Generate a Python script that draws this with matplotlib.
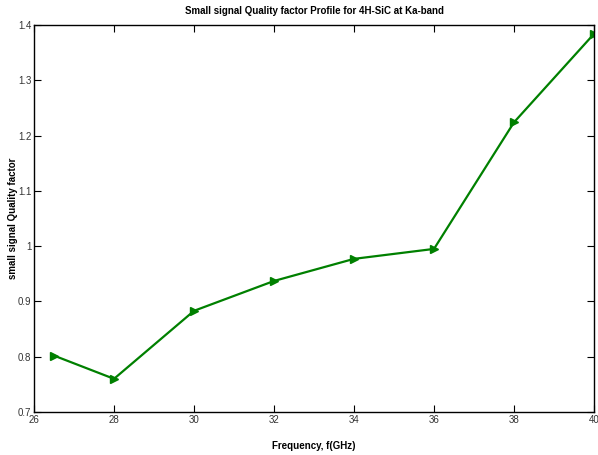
import matplotlib
matplotlib.use("Agg")
import matplotlib.pyplot as plt

freq = [26.5, 28, 30, 32, 34, 36, 38, 40]
qfactor = [0.802, 0.760, 0.883, 0.937, 0.977, 0.995, 1.224, 1.384]
xticks = [26, 28, 30, 32, 34, 36, 38, 40]
yticks = [0.7, 0.8, 0.9, 1.0, 1.1, 1.2, 1.3, 1.4]
yticklabels = ["0.7", "0.8", "0.9", "1", "1.1", "1.2", "1.3", "1.4"]

plt.rcParams['font.family'] = ['Liberation Sans', 'DejaVu Sans']
fig = plt.figure(figsize=(5.98, 4.55), dpi=100)
ax = fig.add_axes([34/598, 1-412/455, (594-34)/598, (412-25)/455])
ax.plot(freq, qfactor, color=(0, 0.5, 0), linewidth=1.6, marker='>', markersize=6,
        markerfacecolor=(0, 0.5, 0), markeredgecolor=(0, 0.5, 0))
ax.set_xlim(26, 40)
ax.set_ylim(0.7, 1.4)
ax.set_xticks(xticks)
ax.set_yticks(yticks)
ax.set_yticklabels(yticklabels)
ax.tick_params(direction='in', length=5, labelsize=7, width=0.8, top=True, right=True, pad=2,
               labelcolor='#333333')
for s in ax.spines.values():
    s.set_linewidth(1.0)
ax.set_title("Small signal Quality factor Profile for 4H-SiC at Ka-band", fontsize=7, fontweight='bold', pad=8)
ax.set_xlabel("Frequency, f(GHz)", fontsize=7, fontweight='bold')
ax.set_ylabel("small signal Quality factor", fontsize=7, fontweight='bold')
ax.xaxis.set_label_coords(0.5, (412-446)/387, transform=ax.transAxes)
ax.yaxis.set_label_coords((13-34)/560, 0.5, transform=ax.transAxes)
ax.xaxis.label.set_va('center')
ax.yaxis.label.set_va('center')
fig.savefig("out.png", dpi=100)
